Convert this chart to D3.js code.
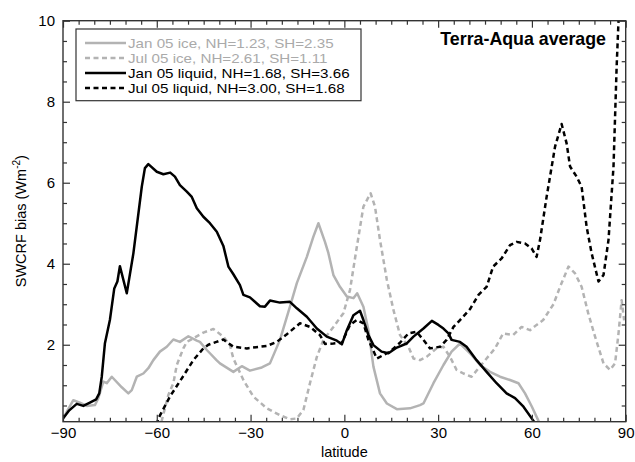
<!DOCTYPE html>
<html><head><meta charset="utf-8">
<script src="https://cdn.jsdelivr.net/npm/d3@7"></script>
<style>
body{margin:0;background:#fff;}
text{font-family:"Liberation Sans",Arial,Helvetica,sans-serif;}
</style></head>
<body><svg id="c" width="635" height="462"></svg>
<script>
// ---- data (latitude, SWCRF bias) ----
const janLiqLat=[-90,-88,-85.6,-83.5,-81.4,-79.4,-78.4,-77.6,-76.6,-75,-73.6,-72.6,-71.8,-69.6,-67.5,-64.8,-63.8,-62.7,-60,-57.9,-55.7,-54.2,-52.6,-50.4,-48.8,-47.2,-45.1,-43,-40.8,-38.7,-37.1,-35.5,-33.4,-32.3,-30.2,-27,-25.4,-23.8,-20.6,-17.4,-15.2,-12,-8.8,-5.6,-2.4,-0.8,0.8,2.9,5,6.1,7.7,9.3,11.9,14.1,16.8,19.9,22.1,25.3,28,30.1,31.7,33.3,34.3,37,39.1,42.3,45.5,48.7,51.9,54.6,57.3,60.5,61.5];
const janLiqVal=[0.18,0.38,0.54,0.49,0.57,0.65,0.8,1.21,2.03,2.61,3.39,3.56,3.94,3.27,4.25,5.9,6.36,6.46,6.27,6.21,6.25,6.15,5.94,5.78,5.65,5.37,5.16,5,4.79,4.44,3.93,3.74,3.47,3.23,3.17,2.95,2.94,3.09,3.04,3.06,2.9,2.69,2.4,2.2,2.1,2.01,2.36,2.73,2.84,2.61,2.24,1.99,1.83,1.79,1.93,2.03,2.2,2.4,2.59,2.49,2.4,2.28,2.12,2.07,1.95,1.62,1.33,1.05,0.8,0.68,0.47,0.12,0];

const julLiqLat=[-60,-59.5,-55.8,-52,-48.3,-45.1,-43.5,-40.9,-38.7,-35.5,-31.2,-27,-24.8,-21.6,-18.4,-14.2,-11,-7.8,-6.2,-3.5,-0.8,1.8,4,6.1,7.7,10.4,13.6,14.6,17.8,20.5,23.1,25.3,27.4,30.6,32.7,34.9,37,40.2,42.9,45.5,47.6,50.3,53,55.1,57.8,59.9,61.5,62.6,64.7,67.4,69.5,71.1,72.2,74.3,75.9,77.5,79.1,81.3,82.9,84.5,86.1,87.1,87.7,88.2];
const julLiqVal=[0.02,0.18,0.72,1.17,1.62,1.91,2,2.07,2.13,1.95,1.91,1.95,1.97,2.07,2.26,2.53,2.44,2.24,2.02,2.03,2.05,2.49,2.61,2.53,2.12,1.66,1.79,1.83,2.05,2.28,2.32,2.12,1.91,1.95,2.12,2.44,2.61,2.88,3.23,3.43,3.93,4.13,4.46,4.54,4.5,4.38,4.17,4.59,5.65,6.89,7.45,6.97,6.4,6.15,5.9,4.91,4.26,3.56,3.72,4.59,6.4,8.86,10,11];

const janIceLat=[-90,-86.7,-84.6,-82.4,-79.8,-78.7,-77.1,-76,-74.4,-71.2,-69.1,-68,-66.4,-64.3,-62.7,-61.1,-59,-56.8,-54.7,-52.6,-49.9,-47.2,-46.2,-44,-43,-40.9,-39.8,-35.5,-32.8,-30.2,-26.4,-23.8,-20.6,-17.4,-15.2,-12,-9.9,-8.3,-6.2,-5.1,-3.5,-1.4,0.8,2.9,4.1,6.1,7.7,9.3,11.4,13.6,16.8,21,24.2,25.3,28.5,31.7,34.3,37,40.2,43.4,46.6,49.8,53,55.7,57.8,60,62.1,62.6];
const janIceVal=[0.18,0.63,0.57,0.49,0.51,0.68,1.09,1.05,1.21,0.95,0.8,0.88,1.21,1.29,1.42,1.62,1.83,1.95,2.13,2.07,2.21,2.1,2.07,1.87,1.79,1.62,1.54,1.33,1.47,1.36,1.44,1.54,2.12,2.94,3.52,4.17,4.67,5,4.54,4.26,3.72,3.43,3.19,3.15,3.27,2.94,2.36,1.46,0.8,0.55,0.41,0.43,0.51,0.55,1.05,1.5,1.83,2.03,1.79,1.5,1.33,1.21,1.13,1.05,0.8,0.47,0.12,0];

const julIceLat=[-58.5,-56.3,-54.7,-53.6,-51.5,-50.4,-48.3,-45.1,-41.9,-38.7,-36.6,-35.5,-32.3,-29.1,-24.8,-20.6,-17.4,-15.2,-13.1,-11,-8.8,-6.7,-3.5,-0.3,1.8,4,6.1,8.4,9.8,11.4,13.6,15.7,17.8,20.5,22.1,24.2,26.3,29.5,31.7,33.8,35.9,38.1,40.7,42.9,45.5,48.2,50.8,54,56.7,59.4,61.5,63.6,65.3,66.9,69,71.7,73.8,75.9,78,80.2,82.9,85,86.6,87.7,88.7,89.5];
const julIceVal=[0.1,0.76,1.05,1.5,1.91,2.07,2.16,2.3,2.39,2.2,1.99,1.66,1.13,0.72,0.43,0.26,0.16,0.18,0.39,1.05,1.7,2.12,2.44,2.78,3.35,4.42,5.41,5.74,5.41,4.59,3.6,2.86,2.24,1.95,1.66,1.62,1.7,1.91,1.95,1.7,1.38,1.29,1.21,1.42,1.66,1.91,2.28,2.24,2.44,2.36,2.49,2.61,2.81,3,3.43,3.93,3.76,3.43,2.78,2.2,1.54,1.38,1.54,2.28,3.1,2.6];

const seriesNames=["Jan 05 ice, NH=1.23, SH=2.35","Jul 05 ice, NH=2.61, SH=1.11","Jan 05 liquid, NH=1.68, SH=3.66","Jul 05 liquid, NH=3.00, SH=1.68"];
const xMajorTicks=[-90,-60,-30,0,30,60,90];
const yMajorTicks=[2,4,6,8,10];

// ---- drawing ----
const svg=d3.select("#c");
const L=63,R=625.7,T=20.7,B=421.7;
const x=d3.scaleLinear().domain([-90,90]).range([L,R]);
const y=d3.scaleLinear().domain([0.1,10]).range([B,T]);
const axisColor="#333";

const series=[
  {name:seriesNames[0],lat:janIceLat,val:janIceVal,color:"#b3b3b3",dash:null,text:"#aaaaaa"},
  {name:seriesNames[1],lat:julIceLat,val:julIceVal,color:"#b3b3b3",dash:"5,3.5",text:"#aaaaaa"},
  {name:seriesNames[2],lat:janLiqLat,val:janLiqVal,color:"#000",dash:null,text:"#000"},
  {name:seriesNames[3],lat:julLiqLat,val:julLiqVal,color:"#000",dash:"5,3.5",text:"#000"}
];

svg.append("clipPath").attr("id","clip").append("rect")
  .attr("x",L).attr("y",T).attr("width",R-L).attr("height",B-T);

const line=d3.line().x(d=>x(d[0])).y(d=>y(d[1]));
const gLines=svg.append("g").attr("clip-path","url(#clip)");
series.forEach(s=>{
  const pts=s.lat.map((l,i)=>[l,s.val[i]]);
  gLines.append("path").datum(pts).attr("d",line)
    .attr("fill","none").attr("stroke",s.color).attr("stroke-width",2.5)
    .attr("stroke-linejoin","round")
    .attr("stroke-dasharray",s.dash);
});

// axes
const xMinor=d3.range(-90,91,5).filter(v=>v%30!==0);
const yMinor=d3.range(0.5,10,0.5).filter(v=>v%2!==0);
function style(g){g.select(".domain").remove();g.selectAll("line").attr("stroke",axisColor).attr("stroke-width",1.2);
  g.selectAll("text").attr("font-size","15px").attr("fill","#000").attr("font-family","'Liberation Sans',Arial,sans-serif");}

svg.append("g").attr("transform",`translate(0,${B})`)
  .call(d3.axisBottom(x).tickValues(xMajorTicks).tickSizeInner(-7).tickSizeOuter(0).tickPadding(6).tickFormat(d3.format("d"))).call(style);
svg.append("g").attr("transform",`translate(0,${B})`)
  .call(d3.axisBottom(x).tickValues(xMinor).tickSizeInner(-4).tickSizeOuter(0).tickFormat("")).call(style);
svg.append("g").attr("transform",`translate(0,${T})`)
  .call(d3.axisTop(x).tickValues(xMajorTicks).tickSizeInner(-7).tickSizeOuter(0).tickFormat("")).call(style);
svg.append("g").attr("transform",`translate(0,${T})`)
  .call(d3.axisTop(x).tickValues(xMinor).tickSizeInner(-4).tickSizeOuter(0).tickFormat("")).call(style);
svg.append("g").attr("transform",`translate(${L},0)`)
  .call(d3.axisLeft(y).tickValues(yMajorTicks).tickSizeInner(-7).tickSizeOuter(0).tickPadding(8).tickFormat(d3.format("d"))).call(style);
svg.append("g").attr("transform",`translate(${L},0)`)
  .call(d3.axisLeft(y).tickValues(yMinor).tickSizeInner(-4).tickSizeOuter(0).tickFormat("")).call(style);
svg.append("g").attr("transform",`translate(${R},0)`)
  .call(d3.axisRight(y).tickValues(yMajorTicks).tickSizeInner(-7).tickSizeOuter(0).tickFormat("")).call(style);
svg.append("g").attr("transform",`translate(${R},0)`)
  .call(d3.axisRight(y).tickValues(yMinor).tickSizeInner(-4).tickSizeOuter(0).tickFormat("")).call(style);

svg.append("rect").attr("x",L).attr("y",T).attr("width",R-L).attr("height",B-T)
  .attr("fill","none").attr("stroke",axisColor).attr("stroke-width",1.4);

// axis titles
svg.append("text").attr("x",(L+R)/2).attr("y",457).attr("text-anchor","middle")
  .attr("font-size","14.5px").text("latitude");
const yl=svg.append("text").attr("transform",`translate(26,${(T+B)/2}) rotate(-90)`)
  .attr("text-anchor","middle").attr("font-size","14.5px");
yl.append("tspan").text("SWCRF bias (Wm");
yl.append("tspan").attr("font-size","10px").attr("dy","-6").text("-2");
yl.append("tspan").attr("dy","6").text(")");

// title
svg.append("text").attr("x",606).attr("y",45).attr("text-anchor","end")
  .attr("font-size","17.8px").attr("font-weight","bold").text("Terra-Aqua average");

// legend
svg.append("rect").attr("x",76).attr("y",29).attr("width",285).attr("height",71.7)
  .attr("fill","#fff").attr("stroke",axisColor).attr("stroke-width",1.2);
const rowY=[43,58,73,88];
series.forEach((s,i)=>{
  svg.append("line").attr("x1",85).attr("x2",126).attr("y1",rowY[i]).attr("y2",rowY[i])
    .attr("stroke",s.color).attr("stroke-width",2.5).attr("stroke-dasharray",s.dash);
  const t=svg.append("text").attr("x",128).attr("y",rowY[i]+4.8)
    .attr("font-size","13.3px").attr("fill",s.text).text(s.name);
  const w=t.node().getComputedTextLength();
  t.attr("textLength",w*1.14).attr("lengthAdjust","spacingAndGlyphs");
});
</script></body></html>
